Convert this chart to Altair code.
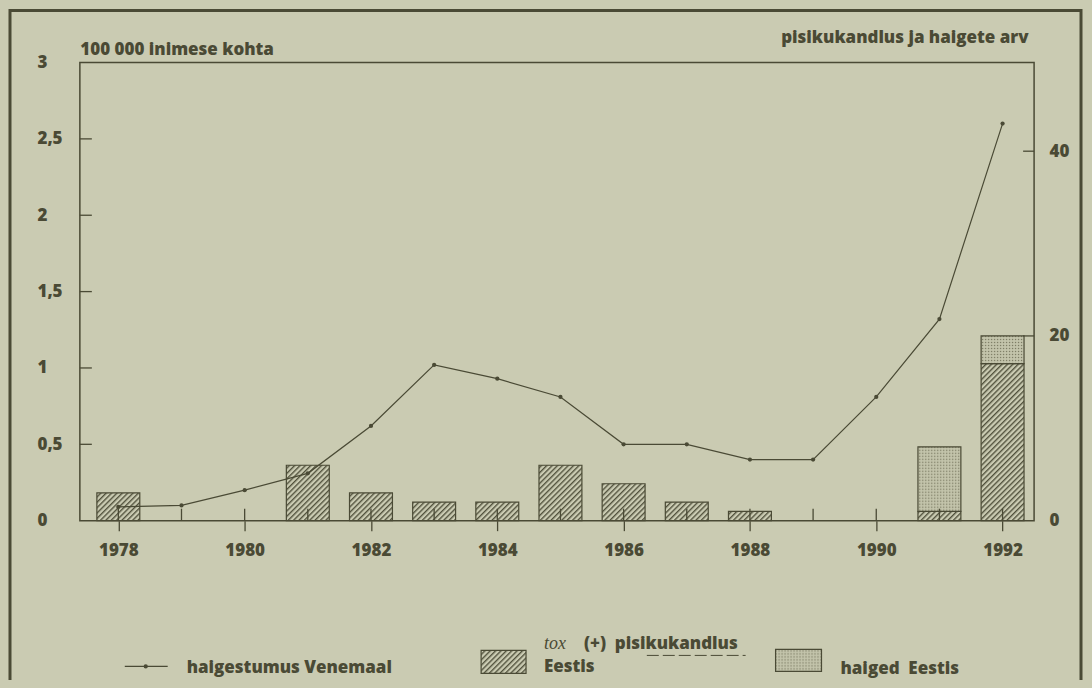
import altair as alt
import pandas as pd

# ---------------- data ----------------
years = list(range(1978, 1993))
russia_incidence = [0.09, 0.10, 0.20, 0.31, 0.62, 1.02, 0.93, 0.81, 0.50, 0.50, 0.40, 0.40, 0.81, 1.32, 2.60]
tox_carriers_estonia = [3, 0, 0, 6, 3, 2, 2, 6, 4, 2, 1, 0, 0, 1, 17]
sick_estonia = [0, 0, 0, 0, 0, 0, 0, 0, 0, 0, 0, 0, 0, 7, 3]
x_label_years = [1978, 1980, 1982, 1984, 1986, 1988, 1990, 1992]
left_axis_values = [0, 0.5, 1, 1.5, 2, 2.5, 3]
left_inner_ticks = [0.5, 1, 1.5, 2, 2.5]
right_axis_values = [0, 20, 40]
right_inner_ticks = [20, 40]

left_title = "100 000 inimese kohta"
right_title = "pisikukandlus ja haigete arv"
legend_line_label = "haigestumus Venemaal"
legend_tox_italic = "tox"
legend_tox_rest = "(+)\u00a0 pisikukandlus"
legend_tox_line2 = "Eestis"
legend_sick_label = "haiged\u00a0 Eestis"

# ---------------- styling ----------------
INK = "#4a4a35"
PAPER = "#cacbb2"
FONT = "Open Sans"
WEIGHT = 800
FS = 17
W, H = 956, 459
HATCH_FILL = "url(#hatch) #8f8f74"
DOTS_FILL = "url(#dots) #bdbea5"

line_df = pd.DataFrame({"year": years, "rate": russia_incidence})
hatch_df = pd.DataFrame(
    [{"year": y, "y0": 0, "y1": t} for y, t in zip(years, tox_carriers_estonia) if t > 0]
)
dots_df = pd.DataFrame(
    [{"year": y, "y0": t, "y1": t + s} for y, t, s in zip(years, tox_carriers_estonia, sick_estonia) if s > 0]
)
years_df = pd.DataFrame({"year": years})
lt_df = pd.DataFrame({"v": left_inner_ticks})
rt_df = pd.DataFrame({"v": right_inner_ticks})

xscale = alt.Scale(domain=[1977.47, 1992.42], nice=False, zero=False)
xaxis = alt.Axis(
    values=x_label_years, format="d", tickSize=10, tickColor=INK, tickWidth=1.3,
    labelFont=FONT, labelFontWeight=WEIGHT, labelFontSize=FS, labelColor=INK,
    labelPadding=12, domain=False, grid=False, title=None, labelFlush=False,
    labelOverlap=False,
)
X = alt.X("year:Q", scale=xscale, axis=xaxis)
lscale = alt.Scale(domain=[0, 3], nice=False, zero=True)
rscale = alt.Scale(domain=[0, 49.6], nice=False, zero=True)

left_axis = alt.Axis(
    orient="left", values=left_axis_values,
    labelExpr="replace(format(datum.value, '~g'), '.', ',')",
    ticks=False, domain=False, grid=False, labelAlign="left", labelPadding=43,
    labelBaseline="middle", labelFlush=False, labelOverlap=False,
    labelFont=FONT, labelFontWeight=WEIGHT, labelFontSize=FS, labelColor=INK,
    title=left_title, titleAngle=0, titleAlign="left", titleBaseline="middle",
    titleX=0, titleY=-13, titleFont=FONT, titleFontWeight=WEIGHT,
    titleFontSize=17, titleColor=INK,
)
right_axis = alt.Axis(
    orient="right", values=right_axis_values,
    ticks=False, domain=False, grid=False, labelAlign="left", labelPadding=15,
    labelBaseline="middle", labelFlush=False, labelOverlap=False,
    labelFont=FONT, labelFontWeight=WEIGHT, labelFontSize=FS, labelColor=INK,
    title=right_title, titleAngle=0, titleAlign="right", titleBaseline="middle",
    titleX=-6, titleY=-25, titleFont=FONT, titleFontWeight=WEIGHT,
    titleFontSize=17, titleColor=INK,
)

hatched = alt.Chart(hatch_df).mark_bar(
    size=43, fill=HATCH_FILL, stroke=INK, strokeWidth=1.2, opacity=1
).encode(x=X, y=alt.Y("y0:Q", scale=rscale, axis=right_axis), y2="y1:Q")

dotted = alt.Chart(dots_df).mark_bar(
    size=43, fill=DOTS_FILL, stroke=INK, strokeWidth=1.2, opacity=1
).encode(x=X, y=alt.Y("y0:Q", scale=rscale, axis=None), y2="y1:Q")

xticks = alt.Chart(years_df).mark_rule(color=INK, strokeWidth=1.3).encode(
    x=X, y=alt.value(H), y2=alt.value(H - 12)
)
lticks = alt.Chart(lt_df).mark_rule(color=INK, strokeWidth=1.3).encode(
    y=alt.Y("v:Q", scale=lscale, axis=None), x=alt.value(0), x2=alt.value(12)
)
rticks = alt.Chart(rt_df).mark_rule(color=INK, strokeWidth=1.3).encode(
    y=alt.Y("v:Q", scale=rscale, axis=None), x=alt.value(W - 11), x2=alt.value(W)
)

line = alt.Chart(line_df).mark_line(color=INK, strokeWidth=1.2).encode(
    x=X, y=alt.Y("rate:Q", scale=lscale, axis=left_axis)
)
points = alt.Chart(line_df).mark_circle(color=INK, size=18, opacity=1).encode(
    x=X, y=alt.Y("rate:Q", scale=lscale, axis=None)
)

# outer frame of the figure
frame = alt.Chart().mark_rect(fill="transparent", stroke=INK, strokeWidth=3).encode(
    x=alt.value(-70), x2=alt.value(1003), y=alt.value(-52), y2=alt.value(640)
)

# ---------------- hand-made legend ----------------
def txt(s, x, y, italic=False, serif=False, size=FS):
    return alt.Chart().mark_text(
        align="left", baseline="middle", font=("Liberation Serif" if serif else FONT),
        fontWeight=("normal" if serif else WEIGHT),
        fontStyle=("italic" if italic else "normal"), fontSize=size, color=INK,
    ).encode(x=alt.value(x), y=alt.value(y), text=alt.value(s))

leg_line = alt.Chart().mark_rule(color=INK, strokeWidth=1.2).encode(
    x=alt.value(45), x2=alt.value(88), y=alt.value(605)
)
leg_dot = alt.Chart().mark_circle(color=INK, size=18, opacity=1).encode(
    x=alt.value(66), y=alt.value(605)
)
leg_hatch = alt.Chart().mark_rect(fill=HATCH_FILL, stroke=INK, strokeWidth=1.2).encode(
    x=alt.value(402), x2=alt.value(447), y=alt.value(589), y2=alt.value(612)
)
leg_dots = alt.Chart().mark_rect(fill=DOTS_FILL, stroke=INK, strokeWidth=1.2).encode(
    x=alt.value(697), x2=alt.value(743), y=alt.value(588), y2=alt.value(610)
)
leg_underline = alt.Chart().mark_rule(color=INK, strokeWidth=1, strokeDash=[12, 4]).encode(
    x=alt.value(568), x2=alt.value(667), y=alt.value(594)
)
legend_layers = [
    leg_line, leg_dot, txt(legend_line_label, 107, 607),
    leg_hatch, txt(legend_tox_italic, 465, 583, italic=True, serif=True, size=18),
    txt(legend_tox_rest, 505, 583), leg_underline,
    txt(legend_tox_line2, 465, 606),
    leg_dots, txt(legend_sick_label, 762, 608),
]

chart = alt.layer(
    hatched, dotted, xticks, lticks, rticks, line, points, frame, *legend_layers
).resolve_scale(y="independent").properties(
    width=W, height=H,
    padding={"left": 72, "top": 54, "right": 50, "bottom": 159},
    autosize=alt.AutoSizeParams(type="none"),
    background=PAPER,
).configure_view(stroke=INK, strokeWidth=1.5)

# SVG pattern definitions for the hatched / dotted fills (fallback colours are in the fill strings)
PATTERN_DEFS = (
    f'<style>body{{background:{PAPER};}}</style>'
    '<svg width="0" height="0" style="position:absolute;left:0;top:0" aria-hidden="true"><defs>'
    '<pattern id="hatch" patternUnits="userSpaceOnUse" width="3.8" height="3.8" patternTransform="rotate(45)">'
    f'<rect width="3.8" height="3.8" fill="{PAPER}"/>'
    f'<line x1="0.7" y1="0" x2="0.7" y2="3.8" stroke="{INK}" stroke-width="1.3"/></pattern>'
    '<pattern id="dots" patternUnits="userSpaceOnUse" width="3" height="3">'
    '<rect width="3" height="3" fill="#c3c4ab"/>'
    '<circle cx="1.5" cy="1.5" r="0.65" fill="#74745c"/></pattern>'
    '</defs></svg>'
)

save_kwargs = {}
try:
    import jinja2
    from altair.utils import html as _alt_html

    _base_template = _alt_html.TEMPLATES["standard"]

    class _PatternTemplate(jinja2.Template):
        def render(self, *args, **kwargs):
            out = _base_template.render(*args, **kwargs)
            if "<body>" in out:
                return out.replace("<body>", "<body>" + PATTERN_DEFS, 1)
            return PATTERN_DEFS + out

    save_kwargs["template"] = _PatternTemplate("{{ spec }}")
except Exception:
    save_kwargs = {}

chart.save("out.html", embed_options={"renderer": "svg", "actions": False}, **save_kwargs)
